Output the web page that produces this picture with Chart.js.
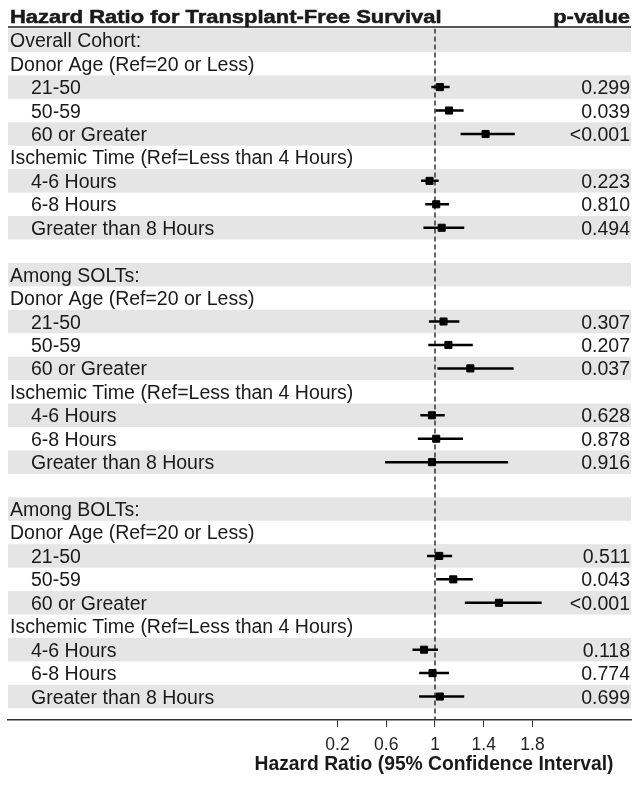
<!DOCTYPE html>
<html>
<head>
<meta charset="utf-8">
<script src="https://cdn.jsdelivr.net/npm/chart.js@4.4.0/dist/chart.umd.min.js"></script>
<style>
  html, body { margin: 0; padding: 0; background: #fff; }
  #wrap { width: 639px; height: 787px; }
</style>
</head>
<body>
<div id="wrap"><canvas id="forest" width="639" height="787"></canvas></div>
<script>
const FONT = "'Liberation Sans', Arial, sans-serif";

// rows, top to bottom
const rowLabels = [
  "Overall Cohort:", "Donor Age (Ref=20 or Less)", "21-50", "50-59", "60 or Greater",
  "Ischemic Time (Ref=Less than 4 Hours)", "4-6 Hours", "6-8 Hours", "Greater than 8 Hours", "",
  "Among SOLTs:", "Donor Age (Ref=20 or Less)", "21-50", "50-59", "60 or Greater",
  "Ischemic Time (Ref=Less than 4 Hours)", "4-6 Hours", "6-8 Hours", "Greater than 8 Hours", "",
  "Among BOLTs:", "Donor Age (Ref=20 or Less)", "21-50", "50-59", "60 or Greater",
  "Ischemic Time (Ref=Less than 4 Hours)", "4-6 Hours", "6-8 Hours", "Greater than 8 Hours"
];
const indented = [0,0,1,1,1,0,1,1,1,0, 0,0,1,1,1,0,1,1,1,0, 0,0,1,1,1,0,1,1,1];

// hazard ratios and 95% CI (null = heading row)
const hr = [null,null,1.04,1.115,1.415,null,0.955,1.01,1.055,null,
            null,null,1.07,1.11,1.29,null,0.975,1.01,0.975,null,
            null,null,1.035,1.15,1.525,null,0.91,0.98,1.04];
const ciLow = [null,null,0.97,1.005,1.21,null,0.885,0.92,0.905,null,
               null,null,0.95,0.945,1.02,null,0.88,0.86,0.59,null,
               null,null,0.935,1.01,1.245,null,0.815,0.87,0.87];
const ciHigh = [null,null,1.12,1.235,1.655,null,1.03,1.115,1.24,null,
                null,null,1.20,1.31,1.645,null,1.08,1.23,1.60,null,
                null,null,1.14,1.31,1.875,null,1.025,1.115,1.24];
const pValues = ["","","0.299","0.039","<0.001","","0.223","0.810","0.494","",
                 "","","0.307","0.207","0.037","","0.628","0.878","0.916","",
                 "","","0.511","0.043","<0.001","","0.118","0.774","0.699"];

const xTicks = [0.2, 0.6, 1, 1.4, 1.8];

const ciPoints = [];
const hrPoints = [];
hr.forEach((v, i) => {
  if (v == null) return;
  hrPoints.push({ x: v, y: i });
  ciPoints.push({ x: ciLow[i], y: i }, { x: ciHigh[i], y: i }, { x: ciHigh[i], y: null });
});

// header text in the source is drawn wider than it is tall
function wideText(ctx, txt, x, y, align) {
  ctx.save();
  ctx.translate(x, y);
  ctx.scale(1.2, 1);
  ctx.textAlign = align;
  ctx.fillText(txt, 0, 0);
  ctx.strokeText(txt, 0, 0);
  ctx.restore();
}

const forestText = {
  id: "forestText",
  beforeDatasetsDraw(chart) {
    const { ctx, chartArea: a, scales: { y } } = chart;
    ctx.save();
    ctx.fillStyle = "#e5e5e5";
    rowLabels.forEach((_, i) => {
      if (i % 2) return;
      const t = y.getPixelForValue(i - 0.5), b = y.getPixelForValue(i + 0.5);
      ctx.fillRect(a.left, t, a.right - a.left, b - t);
    });
    // header rule
    ctx.strokeStyle = "#555";
    ctx.lineWidth = 2;
    ctx.beginPath();
    ctx.moveTo(a.left, a.top - 1.5);
    ctx.lineTo(a.right, a.top - 1.5);
    ctx.stroke();
    ctx.restore();
  },
  afterDatasetsDraw(chart) {
    const { ctx, chartArea: a, scales: { x, y } } = chart;
    ctx.save();
    ctx.fillStyle = "#1a1a1a";
    ctx.strokeStyle = "#1a1a1a";
    ctx.lineWidth = 0.5;
    ctx.textBaseline = "alphabetic";
    ctx.font = "bold 18.3px " + FONT;
    wideText(ctx, "Hazard Ratio for Transplant-Free Survival", a.left + 2, 22.5, "left");
    wideText(ctx, "p-value", a.right - 1, 22.5, "right");

    ctx.font = "19.5px " + FONT;
    rowLabels.forEach((lab, i) => {
      const yy = y.getPixelForValue(i) + 7;
      ctx.textAlign = "left";
      ctx.fillText(lab, a.left + 2 + (indented[i] ? 21 : 0), yy);
      if (pValues[i]) {
        ctx.textAlign = "right";
        ctx.fillText(pValues[i], a.right - 1, yy);
      }
    });

    ctx.font = "bold 19.3px " + FONT;
    ctx.textAlign = "center";
    ctx.fillText("Hazard Ratio (95% Confidence Interval)", x.getPixelForValue(1) - 1, 770);
    ctx.restore();
  }
};

new Chart(document.getElementById("forest"), {
  type: "scatter",
  data: {
    datasets: [
      {
        data: hrPoints,
        pointStyle: "rect",
        pointRadius: 5,
        pointBorderWidth: 1,
        backgroundColor: "#000",
        borderColor: "#000",
        order: 0
      },
      {
        type: "line",
        data: ciPoints,
        borderColor: "#000",
        borderWidth: 2.5,
        pointRadius: 0,
        spanGaps: false,
        order: 1
      },
      {
        type: "line",
        data: [{ x: 1, y: -0.5 }, { x: 1, y: 29 }],
        borderColor: "#333",
        borderWidth: 1.5,
        borderDash: [5, 3],
        pointRadius: 0,
        order: 2
      }
    ]
  },
  options: {
    responsive: false,
    animation: false,
    layout: { padding: { top: 28.5, left: 8, right: 8, bottom: 0 } },
    plugins: { legend: { display: false }, tooltip: { enabled: false } },
    scales: {
      x: {
        type: "linear",
        min: -2.503,
        max: 2.608,
        afterBuildTicks: s => { s.ticks = xTicks.map(v => ({ value: v })); },
        afterFit: s => { s.height = 67; },
        border: { color: "#333", width: 1.5 },
        grid: { drawOnChartArea: false, tickLength: 7, color: "#333", tickWidth: 1 },
        ticks: { color: "#222", font: { family: FONT, size: 17.5 }, padding: 8, callback: v => String(v) }
      },
      y: { type: "linear", display: false, reverse: true, min: -0.5, max: 29 }
    }
  },
  plugins: [forestText]
});
</script>
</body>
</html>
